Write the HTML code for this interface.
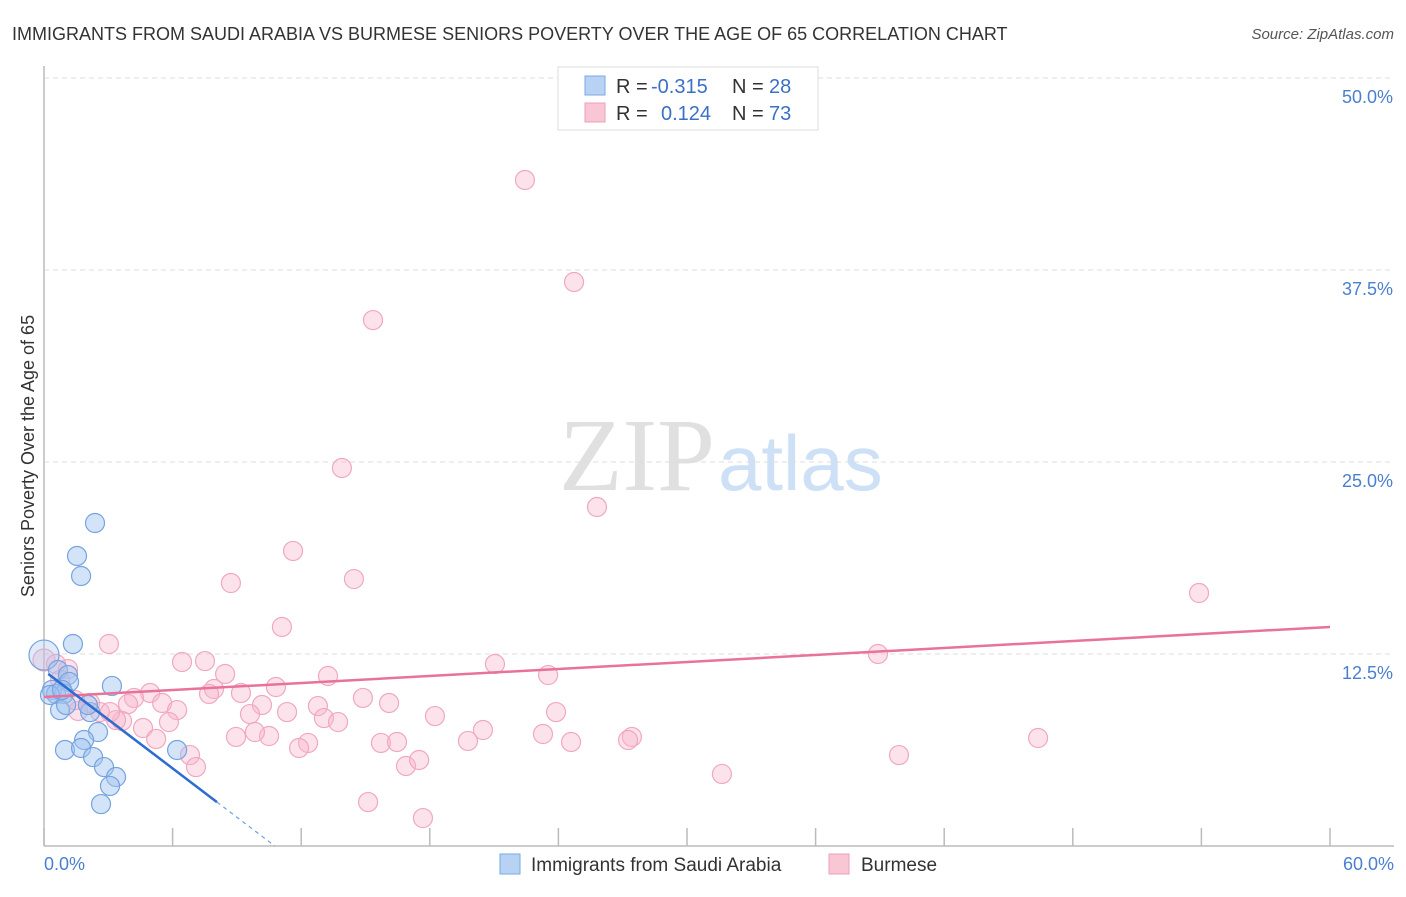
<!DOCTYPE html>
<html><head><meta charset="utf-8"><style>
body{margin:0;background:#fff;font-family:"Liberation Sans",sans-serif}
svg text{font-family:"Liberation Sans",sans-serif}
</style></head><body>
<svg id="c" width="1406" height="892">
<text x="12" y="40" font-size="18" fill="#333">IMMIGRANTS FROM SAUDI ARABIA VS BURMESE SENIORS POVERTY OVER THE AGE OF 65 CORRELATION CHART</text>
<text x="1394" y="39" font-size="15" fill="#555" font-style="italic" text-anchor="end">Source: ZipAtlas.com</text>
<text x="715" y="490" font-size="104" fill="#e0e0e0" style="font-family:'Liberation Serif',serif" text-anchor="end">ZIP</text>
<text x="718" y="490" font-size="78" fill="#cde0f6">atlas</text>
<g id="grid"></g>
<line x1="44" y1="66" x2="44" y2="846" stroke="#bbb" stroke-width="1.5"/>
<line x1="44" y1="846" x2="1394" y2="846" stroke="#bbb" stroke-width="1.5"/>
<text transform="translate(34,456) rotate(-90)" font-size="18" fill="#333" text-anchor="middle">Seniors Poverty Over the Age of 65</text>
<text x="44" y="870" font-size="18" fill="#4a7fd0">0.0%</text>
<text x="1394" y="870" font-size="18" fill="#4a7fd0" text-anchor="end">60.0%</text>
<g id="pts"></g>
<g id="lines"></g>
<g>
<rect x="558" y="67" width="260" height="63" fill="#fff" stroke="#ddd"/>
<rect x="585" y="76" width="20" height="19" fill="#b8d2f4" stroke="#7aa8e6"/>
<rect x="585" y="103" width="20" height="19" fill="#f9c6d6" stroke="#ef9fba"/>
<text x="616" y="93" font-size="20" fill="#333">R =</text>
<text x="651" y="93" font-size="20" fill="#3a70c8">-0.315</text>
<text x="732" y="93" font-size="20" fill="#333">N =</text>
<text x="769" y="93" font-size="20" fill="#3a70c8">28</text>
<text x="616" y="120" font-size="20" fill="#333">R =</text>
<text x="661" y="120" font-size="20" fill="#3a70c8">0.124</text>
<text x="732" y="120" font-size="20" fill="#333">N =</text>
<text x="769" y="120" font-size="20" fill="#3a70c8">73</text>
</g>
<g>
<rect x="500" y="854" width="20" height="20" fill="#b8d2f4" stroke="#7aa8e6"/>
<text x="531" y="871" font-size="19" fill="#333">Immigrants from Saudi Arabia</text>
<rect x="829" y="854" width="20" height="20" fill="#f9c6d6" stroke="#ef9fba"/>
<text x="861" y="871" font-size="19" fill="#333">Burmese</text>
</g>
</svg>
<script>
const yTicks=[12.5,25,37.5,50];
const yTickLabels=["12.5%","25.0%","37.5%","50.0%"];
const xTicks=[0,6,12,18,24,30,36,42,48,54,60];
const blueX=[2.38,1.54,1.73,1.35,3.17,0,0.65,1.12,1.17,0.37,0.56,0.93,0.75,2.15,1.03,2.52,1.87,0.98,1.73,2.29,2.8,3.36,3.08,2.66,6.21,0.28,0.84,2.05];
const blueY=[21.03,18.88,17.58,13.15,10.42,12.43,11.46,11.13,10.68,10.16,9.9,9.9,8.85,8.72,9.18,7.42,6.9,6.25,6.38,5.79,5.14,4.49,3.91,2.73,6.25,9.83,10.16,9.18];
const pinkX=[22.44,24.73,15.35,13.9,25.8,11.62,8.72,14.46,53.89,11.1,3.03,38.91,6.44,7.51,21.04,8.45,13.25,23.52,0,1.12,0.56,10.82,7.93,9.19,4.95,4.2,7.7,14.88,16.1,10.17,12.78,5.51,6.21,2.15,2.61,1.59,3.92,23.89,18.24,9.61,11.34,13.06,13.72,3.64,3.36,5.83,4.62,20.48,23.28,8.96,10.5,9.84,12.32,11.9,15.72,16.47,19.78,24.59,27.43,27.25,46.38,5.23,6.81,7.09,16.89,17.5,39.89,31.63,15.12,17.68,0.75,1.45,3.08];
const pinkY=[43.36,36.72,34.24,24.61,22.07,19.21,17.12,17.38,16.47,14.26,13.15,12.5,11.98,12.04,11.85,11.2,11.07,11.13,12.11,11.52,11.85,10.35,10.22,9.96,9.96,9.64,9.9,9.64,9.31,9.18,9.11,9.31,8.85,9.31,8.72,8.79,9.24,8.72,8.46,8.59,8.72,8.33,8.07,8.14,8.2,8.07,7.68,7.55,7.29,7.1,7.16,7.42,6.71,6.38,6.71,6.77,6.84,6.77,7.1,6.9,7.03,6.97,5.92,5.14,5.21,5.6,5.92,4.69,2.86,1.82,10.81,9.5,8.72];
const pinkTrend=[9.7,14.26];
const blueTrend=[11.2,2.86];
const blueTrendX=[0.2,8.07,10.77];
const X=v=>44+v*(1286/60), Y=v=>846-v*15.36;
const NS="http://www.w3.org/2000/svg";
function mk(t,a,p){const e=document.createElementNS(NS,t);for(const k in a)e.setAttribute(k,a[k]);p.appendChild(e);return e;}
const grid=document.getElementById('grid');
const topLine=mk('line',{x1:44,x2:1394,y1:78,y2:78,stroke:'#ddd','stroke-dasharray':'5,4'},grid);


yTicks.forEach((t,i)=>{
 const l=mk('line',{x1:44,x2:1394,y1:Y(t),y2:Y(t),stroke:'#ddd','stroke-dasharray':'5,4'},grid);
 
 
 const tx=mk('text',{x:1393,y:Y(t)+25,'font-size':18,fill:'#4a7fd0','text-anchor':'end'},grid);
 tx.textContent=yTickLabels[i];
 
 
});
xTicks.forEach(t=>{
 const l=mk('line',{x1:X(t),x2:X(t),y1:828,y2:846,stroke:'#bbb','stroke-width':1.5},grid);
 
 
});
const pts=document.getElementById('pts');
pinkX.forEach((x,i)=>{
 const c=mk('circle',{cx:X(x),cy:Y(pinkY[i]),r:i==18?11:9.5,fill:'rgba(248,182,204,0.4)',stroke:'#f0a8c0','stroke-width':1.2},pts);
 
 
});
blueX.forEach((x,i)=>{
 const c=mk('circle',{cx:X(x),cy:Y(blueY[i]),r:i==5?15:9.5,fill:i==5?'rgba(170,200,240,0.35)':'rgba(160,196,240,0.45)',stroke:'#75a3e0','stroke-width':1.2},pts);
 
 
});
const lg=document.getElementById('lines');
const pl=mk('line',{x1:X(0),y1:Y(pinkTrend[0]),x2:X(60),y2:Y(pinkTrend[1]),stroke:'#e8729a','stroke-width':2.5},lg);


const bs=(blueTrend[1]-blueTrend[0])/(blueTrendX[1]-blueTrendX[0]);
const bl=mk('line',{x1:X(blueTrendX[0]),y1:Y(blueTrend[0]),x2:X(blueTrendX[1]),y2:Y(blueTrend[1]),stroke:'#2d6cd0','stroke-width':2.5},lg);


const bd=mk('line',{x1:X(blueTrendX[1]),y1:Y(blueTrend[1]),x2:X(blueTrendX[2]),y2:Y(blueTrend[1]+bs*(blueTrendX[2]-blueTrendX[1])),stroke:'#6f9fe0','stroke-width':1.2,'stroke-dasharray':'4,4'},lg);


</script>
</body></html>
